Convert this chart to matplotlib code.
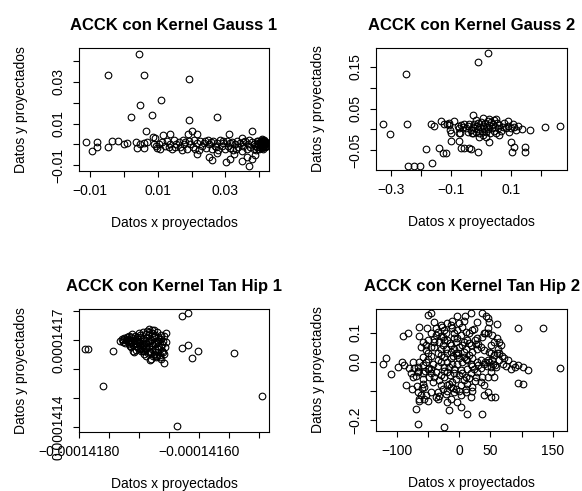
import matplotlib
matplotlib.use("Agg")
import matplotlib.pyplot as plt

plt.rcParams['font.family'] = ['Liberation Sans', 'DejaVu Sans']

# ---- ACCK con Kernel Gauss 1 ----
g1_x = [0.00451, -0.00461, 0.00608, 0.01931, 0.01088, 0.00471, 0.00216, 0.00843, 0.01912, 0.02755,
        0.00657, 0.0201, 0.03794, 0.00873, 0.00912, 0.01176, 0.01353, 0.03098, 0.0349, 0.0191, 0.0216,
        -0.01108, -0.00794, -0.00931, -0.00794, -0.00461, -0.00343, -0.00176, 0.0, 0.00098, 0.00373,
        0.0049, 0.00588, 0.00686, 0.00392, 0.00608, 0.0098, 0.0103,
        0.01127, 0.01225, 0.01275, 0.01373, 0.01422, 0.01471, 0.01549, 0.01618, 0.01667, 0.01745,
        0.01784, 0.01863, 0.01912, 0.01961, 0.02039, 0.02078, 0.02157, 0.02206, 0.02255, 0.02304,
        0.02373, 0.02431, 0.02471, 0.02529, 0.02598, 0.02647, 0.02696, 0.02745, 0.02794, 0.02843,
        0.02892, 0.02941, 0.0299, 0.03039, 0.03088, 0.03137, 0.03186, 0.03235, 0.03284, 0.03333,
        0.03382, 0.03431, 0.0348, 0.03529, 0.03578, 0.03627, 0.03676, 0.03725, 0.03775, 0.03824,
        0.03873, 0.03922, 0.03941, 0.03971, 0.04, 0.0402, 0.04039, 0.04069, 0.04069, 0.04098,
        0.04118, 0.04137, 0.04167, 0.04186, 0.04216, 0.04118, 0.0402, 0.03971,
        0.00902, 0.00961, 0.01059, 0.01324, 0.0152, 0.01716, 0.01814, 0.02108, 0.02402, 0.02569,
        0.02725, 0.02922, 0.03118, 0.03314, 0.0351, 0.03706, 0.03843, 0.03902, 0.04049, 0.04078,
        0.04108, 0.04157, 0.04196,
        0.0216, 0.0251, 0.0261, 0.0302, 0.0314, 0.0349, 0.0369, 0.0379, 0.0363, 0.0387, 0.0324, 0.0275,
        0.0405, 0.0410, 0.0415, 0.0412, 0.0408, 0.0418, 0.0402, 0.0395, 0.0420, 0.0413]
g1_y = [0.0435, 0.0333, 0.0333, 0.0313, 0.0214, 0.0189, 0.0133, 0.0143, 0.0119, 0.0133,
        0.0063, 0.0063, 0.0063, 0.0038, 0.0033, 0.0046, 0.0048, 0.0048, 0.0032, 0.0048, 0.0048,
        0.0010, 0.0010, -0.0032, -0.0014, -0.0013, 0.0019, 0.0019, 0.0003, 0.0006, 0.0010,
        0.0003, 0.0006, 0.0010, -0.0017, -0.0017, -0.0017, 0.0,
        0.0011, -0.00095, 0.0019, 0.0003, -0.0021, 0.0022, 0.0, 0.0011, -0.0013, 0.0022,
        0.0003, -0.0021, 0.0019, 0.0, -0.0013, 0.0022, 0.0006, -0.0025, 0.0019, -0.0005,
        0.0006, -0.0016, 0.0022, 0.0, -0.0021, 0.0016, -0.0005, 0.0006, -0.0025, 0.0022,
        -0.00095, 0.0006, -0.0021, 0.0019, -0.0005, -0.0016, 0.0011, -0.0025, 0.0, 0.0019,
        -0.0013, 0.0006, -0.0029, -0.0005, 0.0016, -0.0021, 0.0003, -0.0013, 0.0011, -0.0021,
        -0.0005, 0.0019, -0.0013, 0.0003, -0.0021, 0.0011, -0.0005, 0.0027, -0.0016, 0.0006,
        -0.0005, 0.0019, -0.0013, 0.0006, -0.00095, -0.0021, -0.0013, 0.0019,
        0.0, -0.00095, -0.0021, -0.0013, -0.0013, -0.0025, 0.0011, -0.0021, 0.0019, 0.0011,
        -0.0013, 0.0019, 0.0006, -0.0021, 0.0011, 0.0022, 0.0003, -0.0025, 0.0006, 0.0,
        -0.0013, 0.0011, 0.0,
        -0.0044, -0.0060, -0.0076, -0.0084, -0.0068, -0.0079, -0.0103, -0.0071, -0.0060, -0.0052, -0.0044, -0.0041,
        0.0010, 0.0015, 0.0003, -0.0008, 0.0020, 0.0012, -0.0003, 0.0008, -0.0005, 0.0022]

# ---- ACCK con Kernel Gauss 2 ----
g2_x = [0.0222, -0.0111, -0.2511, -0.3256, -0.3044, -0.2467, -0.2444, -0.2244, -0.2022, -0.1644,
        -0.1822, -0.1389, -0.1267, -0.1167, -0.1656, -0.1556, -0.1333, -0.1244, -0.1133, -0.1056,
        -0.0911, -0.1078, -0.0278, -0.0089, 0.0267, 0.1033, 0.1089, 0.1467, 0.1478, 0.1011,
        0.1622, 0.2144, 0.2644, 0.1356, 0.0911, -0.0989, -0.0722, -0.0744, -0.07, -0.0556,
        -0.0389, -0.0333, -0.0667, -0.0311, -0.1, -0.1044,
        -0.0778, -0.0722, -0.0667, -0.0611, -0.0556, -0.05, -0.0444, -0.0389, -0.0333, -0.0278,
        -0.0244, -0.02, -0.0167, -0.0133, -0.0111, -0.0089, -0.0056, -0.0033, 0.0, 0.0022,
        0.0056, 0.0078, 0.0111, 0.0133, 0.0167, 0.0189, 0.0222, 0.0244, 0.0278, 0.0311,
        0.0333, 0.0356, 0.0389, 0.0422, 0.0444, 0.0467, 0.05, 0.0533, 0.0556, 0.0611,
        0.0667, 0.0722, 0.0778, 0.0833, 0.0889, 0.0944, 0.1, 0.1056, 0.1111, 0.1167,
        0.1222, -0.0444, -0.0278, -0.0167, 0.0056, 0.0278, 0.05, 0.0611, 0.0167, -0.0056]
g2_y = [0.184, 0.1624, 0.1328, 0.0136, -0.0104, 0.0136, -0.0872, -0.0872, -0.0872, -0.08,
        -0.0464, -0.044, -0.0576, -0.0576, 0.0136, 0.0088, 0.0192, 0.0136, 0.0136, 0.0104,
        0.0192, 0.016, 0.0344, -0.0552, -0.0312, -0.0552, -0.0432, -0.0552, -0.0432, -0.0312,
        -0.0024, 0.0056, 0.0088, 0.0008, 0.0192, -0.028, -0.028, -0.0096, -0.0096, -0.044,
        -0.044, -0.0472, -0.044, -0.0096, -0.0096, -0.0016,
        0.008, 0.0024, 0.0104, 0.0064, 0.0128, 0.0024, 0.008, 0.0128, -0.0016, 0.0064,
        0.0128, 0.0024, -0.0056, 0.008, 0.0144, 0.0, -0.0096, 0.0064, 0.0184, -0.0032,
        0.008, -0.0136, 0.0024, 0.0144, -0.0056, 0.0064, 0.0208, 0.0, 0.0104, -0.0096,
        0.0184, 0.0024, 0.0128, -0.0032, 0.0224, 0.0064, -0.008, 0.0144, 0.0024, 0.0104,
        -0.0032, 0.0064, 0.016, 0.0024, 0.008, -0.0056, 0.0024, 0.0128, 0.0064, -0.0016,
        0.008, -0.0056, -0.0096, 0.0224, 0.0264, 0.024, 0.024, -0.0136, -0.0176, -0.0176]

# ---- ACCK con Kernel Tan Hip 1 ----
t1_x = [-1.416178e-4, -1.416289e-4, -1.417900e-4, -1.417856e-4, -1.417444e-4, -1.417606e-4,
        -1.414944e-4, -1.416372e-4, -1.415411e-4, -1.416017e-4, -1.416117e-4, -1.416189e-4,
        -1.416289e-4, -1.416589e-4, -1.416556e-4,
        -1.417322e-4, -1.417289e-4, -1.417267e-4, -1.417250e-4, -1.417233e-4, -1.417211e-4,
        -1.417194e-4, -1.417178e-4, -1.417167e-4, -1.417156e-4, -1.417139e-4, -1.417122e-4,
        -1.417111e-4, -1.417100e-4, -1.417083e-4, -1.417067e-4, -1.417056e-4, -1.417044e-4,
        -1.417028e-4, -1.417011e-4, -1.417000e-4, -1.416989e-4, -1.416972e-4, -1.416956e-4,
        -1.416944e-4, -1.416933e-4, -1.416917e-4, -1.416900e-4, -1.416889e-4, -1.416878e-4,
        -1.416861e-4, -1.416844e-4, -1.416833e-4, -1.416822e-4, -1.416805e-4, -1.416789e-4,
        -1.416778e-4, -1.416767e-4, -1.416750e-4, -1.416733e-4, -1.416722e-4, -1.416711e-4,
        -1.416694e-4, -1.416678e-4, -1.416667e-4, -1.416655e-4, -1.416639e-4, -1.416622e-4,
        -1.416611e-4, -1.416600e-4, -1.416583e-4, -1.416567e-4, -1.416556e-4, -1.416639e-4,
        -1.416722e-4, -1.416805e-4, -1.416917e-4, -1.417083e-4, -1.417111e-4, -1.416833e-4,
        -1.416750e-4, -1.416889e-4, -1.416972e-4, -1.417028e-4, -1.417156e-4, -1.417222e-4,
        -1.417278e-4, -1.416694e-4, -1.416750e-4, -1.416583e-4, -1.416817e-4,
        -1.417200e-4, -1.417140e-4, -1.417080e-4, -1.417030e-4, -1.416980e-4, -1.416930e-4,
        -1.416880e-4, -1.416830e-4, -1.416780e-4, -1.416730e-4, -1.416680e-4, -1.416630e-4,
        -1.416680e-4, -1.416730e-4, -1.416780e-4, -1.416830e-4, -1.416880e-4, -1.416930e-4,
        -1.416980e-4, -1.417030e-4, -1.417080e-4, -1.417130e-4, -1.417030e-4, -1.416980e-4,
        -1.416930e-4, -1.416880e-4, -1.416830e-4, -1.416780e-4, -1.416730e-4, -1.416680e-4,
        -1.416630e-4, -1.416600e-4, -1.416650e-4, -1.416700e-4, -1.416760e-4, -1.416820e-4,
        -1.416860e-4, -1.416910e-4, -1.417050e-4, -1.417130e-4]
t1_y = [1.417920e-4, 1.417816e-4, 1.416679e-4, 1.416702e-4, 1.416621e-4, 1.415415e-4,
        1.415059e-4, 1.414024e-4, 1.416564e-4, 1.416610e-4, 1.416380e-4, 1.416828e-4,
        1.416725e-4, 1.416219e-4, 1.417230e-4,
        1.416978e-4, 1.417035e-4, 1.416943e-4, 1.417058e-4, 1.416897e-4, 1.417092e-4,
        1.416978e-4, 1.416862e-4, 1.417150e-4, 1.417012e-4, 1.416920e-4, 1.417207e-4,
        1.417058e-4, 1.416828e-4, 1.416978e-4, 1.417150e-4, 1.416897e-4, 1.416782e-4,
        1.417035e-4, 1.417242e-4, 1.416943e-4, 1.416828e-4, 1.417092e-4, 1.416713e-4,
        1.416978e-4, 1.417265e-4, 1.416862e-4, 1.416633e-4, 1.417058e-4, 1.417322e-4,
        1.416920e-4, 1.416748e-4, 1.417173e-4, 1.416575e-4, 1.417012e-4, 1.417357e-4,
        1.416828e-4, 1.416460e-4, 1.417092e-4, 1.416690e-4, 1.416920e-4, 1.417265e-4,
        1.416575e-4, 1.416782e-4, 1.417035e-4, 1.416403e-4, 1.417173e-4, 1.416633e-4,
        1.416862e-4, 1.416978e-4, 1.416518e-4, 1.416748e-4, 1.416920e-4, 1.416346e-4,
        1.416403e-4, 1.416346e-4, 1.416518e-4, 1.416575e-4, 1.416633e-4, 1.417380e-4,
        1.417357e-4, 1.416460e-4, 1.416633e-4, 1.416713e-4, 1.416782e-4, 1.417012e-4,
        1.417012e-4, 1.416943e-4, 1.417150e-4, 1.417150e-4, 1.416323e-4,
        1.417050e-4, 1.417120e-4, 1.417000e-4, 1.417120e-4, 1.417180e-4, 1.417050e-4,
        1.417200e-4, 1.417280e-4, 1.417250e-4, 1.417180e-4, 1.417120e-4, 1.417050e-4,
        1.416950e-4, 1.416850e-4, 1.416900e-4, 1.416980e-4, 1.416900e-4, 1.416800e-4,
        1.416900e-4, 1.416950e-4, 1.416850e-4, 1.416900e-4, 1.416800e-4, 1.416700e-4,
        1.416620e-4, 1.416720e-4, 1.416800e-4, 1.416700e-4, 1.416600e-4, 1.416680e-4,
        1.416750e-4, 1.416600e-4, 1.416500e-4, 1.416450e-4, 1.416520e-4, 1.416600e-4,
        1.416550e-4, 1.416680e-4, 1.416650e-4, 1.416750e-4]

# ---- ACCK con Kernel Tan Hip 2 ----
t2_x = [-123, -117, -110, -91, -83, -92, -99, -89, -81, -86, -76, -67, -65, -64, -70, -66, -25, 37, 13,
        -16, 3, 95, 135, 162, 111, 102, 95, 89, 86, 83, 95, 102, 72, 67, 64, 60, 46, 46, 42, 43, 46,
        37, 19, 9, -4, -14, -51, -46, -41, -52, -65, -65, 21, 23, 29, 51, 57, 40, 11, 19, -3, -19,
        -14, -35, -33, -51, -54, -68, -56, -59, -59, -67, -67, -67, -54, -50, -54, -50, -45, -37,
        -27, -21, -19, -8, -13, -3, 3, 8, 13, 5, 8, -3, -13, -24, -35, -29, -40, -35, -43, -45, -37,
        -29, -24, -19, -8, -3, 5, 13, 19, 29, 40, 48, 54, 46, 51, 59, 35, -19, -13, -16, -11, 0, 8,
        13, 21, 11, 29, 37, 35, 40, 46, 24, 21, 29, 40, 51, 56, 62, 56, 64, 51, 19, 21, -29, -24,
        -32, -43, -48, -35, -27, -8, 3, -45, -59, -75, -78, -40, -32, -27, -21, -13, -8, -5, 0, 8,
        16, -19, -11, -16, -8, 3, 13, 19, 27, 3, -5, -21, -37, -56, -62, -54, -59, -65, -59, -51,
        -45, -40, 51, 56, 46, 64, 70, 78, 61, 53, 37, 27, 11, -3, -11, -24, -35, -29, -19, 0, 29, 48,
        -45, -40, -30, -25, -15, -5, 0, 10, 15, 25, 30, -50, -45, -30, -20, -10, -2, 10, 20, 30,
        35, 42, 45, 52, 58, -55, -48, -35, -25, -15, -5, 5, 15, 25, -10, -20, -30, 0, 10, 20,
        -60, -70, -72, -75, 60, 68, 75, -38, -28, -8, 5, 15, 40, 35, 47, -62, -58, -12, 8]
t2_y = [-0.006, 0.012, -0.043, 0.090, 0.098, 0.000, -0.017, -0.012, -0.021, -0.078, -0.092, -0.104,
        -0.129, -0.135, -0.161, -0.213, -0.225, -0.179, -0.179, -0.167, -0.156, 0.115, 0.115, -0.020,
        -0.029, -0.017, -0.012, -0.017, -0.009, -0.025, -0.072, -0.077, 0.012, 0.058, 0.069, 0.129,
        0.118, 0.098, 0.101, 0.159, 0.150, 0.167, 0.167, 0.159, 0.159, 0.127, 0.161, 0.167, 0.138,
        0.118, 0.121, 0.090, 0.110, 0.113, 0.081, -0.121, -0.121, -0.113, -0.104, -0.121, -0.138,
        -0.138, -0.127, -0.129, -0.118, -0.133, -0.115, -0.083, -0.087, -0.040, -0.058, -0.035,
        -0.030, -0.017, 0.000, 0.029, 0.058, 0.075, 0.098, 0.092, 0.087, 0.101, 0.077, 0.081, 0.058,
        0.081, 0.092, 0.069, 0.075, 0.058, 0.035, 0.023, 0.012, 0.017, 0.029, 0.046, 0.052, 0.006,
        -0.006, -0.023, -0.035, -0.046, -0.017, -0.035, -0.023, -0.006, 0.000, 0.006, -0.006, 0.000,
        -0.006, 0.000, -0.006, 0.006, -0.017, -0.017, 0.006, -0.081, -0.087, -0.075, -0.069, -0.046,
        -0.063, -0.075, -0.087, -0.052, -0.035, -0.052, -0.069, -0.081, -0.104, -0.023, 0.035, 0.046,
        0.040, 0.058, 0.069, 0.046, 0.023, 0.029, 0.029, 0.058, 0.012, 0.000, -0.052, -0.063, -0.069,
        -0.052, -0.104, -0.092, -0.104, -0.115, -0.104, -0.075, -0.052, -0.040, 0.069, 0.069, 0.058,
        0.046, 0.035, 0.046, 0.029, 0.012, 0.017, 0.023, 0.000, -0.006, -0.017, -0.040, -0.029,
        -0.023, -0.040, -0.052, -0.081, -0.092, -0.109, -0.121, -0.127, -0.115, 0.040, 0.017, 0.000,
        -0.012, -0.023, -0.040, -0.052, -0.035, -0.052, -0.052, 0.006, -0.006, 0.006, 0.081, 0.092,
        0.087, 0.063, 0.104, 0.110, 0.115, 0.110, 0.104, 0.127, 0.133, 0.133, 0.138, 0.138,
        0.050, 0.080, 0.090, 0.075, 0.065, 0.070, 0.050, 0.045, 0.065, 0.075, 0.060, 0.010, 0.020,
        0.025, 0.030, 0.020, 0.030, 0.010, -0.015, -0.010, -0.020, 0.000, -0.015, 0.005, -0.010,
        -0.030, -0.020, -0.015, -0.030, -0.045, -0.060, -0.040, -0.055, -0.065, -0.090, -0.100,
        -0.080, -0.100, -0.095, -0.100, -0.090, -0.050, -0.020, 0.000, 0.030, 0.020, -0.015,
        0.115, 0.120, 0.100, 0.120, 0.100, 0.100, 0.050, 0.035, 0.050, 0.070, 0.140, 0.140]

W, H = 582, 491
fig = plt.figure(figsize=(W / 100, H / 100), dpi=100)

def panel(box, xs, ys, title, xlim, ylim, xt, xtl, yt, ytl):
    l, t, r, b = box
    ax = fig.add_axes([l / W, 1 - b / H, (r - l) / W, (b - t) / H])
    ax.plot(xs, ys, ls='none', marker='o', ms=4.8, mfc='none', mec='black', mew=0.8)
    ax.set_xlim(*xlim)
    ax.set_ylim(*ylim)
    ax.set_xticks(xt)
    ax.set_xticklabels(xtl)
    ax.set_yticks(yt)
    ax.set_yticklabels(ytl, rotation=90, va='center')
    ax.tick_params(direction='out', length=4.5, width=0.8, pad=5, labelsize=10)
    for s in ax.spines.values():
        s.set_linewidth(0.8)
    ax.set_title(title, fontsize=12, fontweight='bold', pad=13)
    ax.set_xlabel('Datos x proyectados', fontsize=10)
    ax.set_ylabel('Datos y proyectados', fontsize=10)
    ax.xaxis.set_label_coords(0.5, -52 / (b - t))
    ax.xaxis.label.set_va('center')
    ax.yaxis.set_label_coords(-58 / (r - l), 0.5)
    ax.yaxis.label.set_va('center')
    return ax

panel((79, 48, 269, 171), g1_x, g1_y, 'ACCK con Kernel Gauss 1',
      (-0.0131, 0.0428), (-0.0127, 0.0462),
      [-0.01, 0.0, 0.01, 0.02, 0.03, 0.04], ['\u22120.01', '', '0.01', '', '0.03', ''],
      [-0.01, 0.0, 0.01, 0.02, 0.03, 0.04], ['\u22120.01', '', '0.01', '', '0.03', ''])

panel((376, 48, 567, 170), g2_x, g2_y, 'ACCK con Kernel Gauss 2',
      (-0.35, 0.2867), (-0.098, 0.1956),
      [-0.3, -0.2, -0.1, 0.0, 0.1, 0.2], ['\u22120.3', '', '\u22120.1', '', '0.1', ''],
      [-0.05, 0.0, 0.05, 0.10, 0.15], ['\u22120.05', '', '0.05', '', '0.15'])

panel((79, 309, 269, 432), t1_x, t1_y, 'ACCK con Kernel Tan Hip 1',
      (-1.418005e-4, -1.414833e-4), (1.413829e-4, 1.418069e-4),
      [-1.4180e-4, -1.4175e-4, -1.4170e-4, -1.4165e-4, -1.4160e-4, -1.4155e-4, -1.4150e-4],
      ['\u22120.00014180', '', '', '', '\u22120.00014160', '', ''],
      [1.414e-4, 1.415e-4, 1.416e-4, 1.417e-4, 1.418e-4],
      ['0.0001414', '', '', '0.0001417', ''])

panel((376, 309, 567, 431), t2_x, t2_y, 'ACCK con Kernel Tan Hip 2',
      (-133.8, 172.9), (-0.238, 0.182),
      [-100, -50, 0, 50, 100, 150], ['\u2212100', '', '0', '50', '', '150'],
      [-0.2, -0.1, 0.0, 0.1], ['\u22120.2', '', '0.0', '0.1'])

fig.savefig('out.png', dpi=100)
